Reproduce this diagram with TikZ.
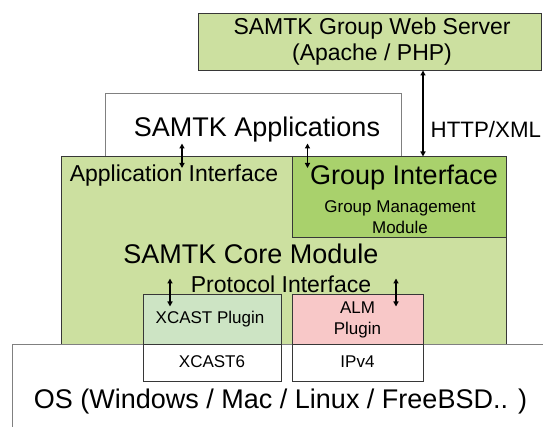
\documentclass[tikz,border=0pt]{standalone}
\usepackage{fontspec}
\setmainfont{Liberation Sans}
\usetikzlibrary{arrows.meta}
\definecolor{coregreen}{RGB}{204,224,160}
\definecolor{groupgreen}{RGB}{169,209,108}
\definecolor{xcastgreen}{RGB}{205,228,196}
\definecolor{almpink}{RGB}{248,200,200}
\definecolor{darkedge}{RGB}{55,55,55}
\definecolor{grayedge}{RGB}{128,128,128}
\tikzset{
  boxshape/.style={rectangle, inner sep=0pt, outer sep=0pt, anchor=north west, line width=0.8pt},
  bigtext/.style={font=\fontsize{27}{32}\selectfont, inner sep=0pt},
  midtext/.style={font=\fontsize{23}{26}\selectfont, inner sep=0pt},
  smalltext/.style={font=\fontsize{17}{21}\selectfont, inner sep=0pt},
  biarrow/.style={{Triangle[length=5pt,width=5pt]}-{Triangle[length=5pt,width=5pt]}, line width=1.4pt, shorten <=0pt, shorten >=0pt}
}
\begin{document}
\begin{tikzpicture}[x=1pt,y=-1pt]
\useasboundingbox (0,0) rectangle (543,427);
% boxes
\node[boxshape, draw=darkedge, fill=coregreen, minimum width=343pt, minimum height=57pt] (web) at (198,13.5) {};
\node[boxshape, draw=grayedge, fill=white, minimum width=296.5pt, minimum height=63pt] (apps) at (105,93.5) {};
\node[boxshape, draw=darkedge, fill=coregreen, minimum width=445pt, minimum height=187.5pt] (core) at (61,156.5) {};
\node[boxshape, draw=darkedge, fill=groupgreen, minimum width=214pt, minimum height=80.5pt] (group) at (292,156.5) {};
\node[boxshape, draw=grayedge, fill=white, minimum width=560pt, minimum height=120pt] (os) at (12,344) {};
\node[boxshape, draw=darkedge, fill=xcastgreen, minimum width=138pt, minimum height=50pt] (xcast) at (143,294) {};
\node[boxshape, draw=darkedge, fill=white, minimum width=138pt, minimum height=37pt] (xcast6) at (143,344) {};
\node[boxshape, draw=darkedge, fill=almpink, minimum width=131pt, minimum height=50pt] (alm) at (292,294) {};
\node[boxshape, draw=darkedge, fill=white, minimum width=131pt, minimum height=37pt] (ipv4) at (292,344) {};
% texts
\node[midtext, align=center] (webtext) at (372,42) {SAMTK Group Web Server\\(Apache / PHP)};
\node[bigtext] (appstext) at (257,130) {SAMTK Applications};
\node[font=\fontsize{22.3}{26}\selectfont, inner sep=0pt, anchor=west] (httptext) at (430.5,130) {HTTP/XML};
\node[midtext] (appif) at (174,176) {Application Interface};
\node[bigtext] (groupif) at (404,177.5) {Group Interface};
\node[smalltext, align=center] (gmm) at (400,217) {Group Management\\Module};
\node[bigtext] (coretext) at (251,254) {SAMTK Core Module};
\node[midtext] (protoif) at (281,284) {Protocol Interface};
\node[smalltext] (xcasttext) at (210,319) {XCAST Plugin};
\node[smalltext, align=center] (almtext) at (357.5,319.5) {ALM\\Plugin};
\node[smalltext] (xcast6text) at (212,362) {XCAST6};
\node[smalltext] (ipv4text) at (357.5,362) {IPv4};
\node[bigtext] (ostext) at (280.5,401.5) {OS (Windows / Mac / Linux / FreeBSD.. )};
% arrow end points
\coordinate (a1top) at (182,143.5);
\coordinate (a1bot) at (182,168);
\coordinate (a2top) at (307.5,143.5);
\coordinate (a2bot) at (307.5,168);
\coordinate (p1top) at (170,278.5);
\coordinate (p1bot) at (170,306.5);
\coordinate (p2top) at (396,278.5);
\coordinate (p2bot) at (396,306.5);
\coordinate (hx) at (423,0);
% arrows
\draw[biarrow] (web.south -| hx) -- (core.north -| hx);
\draw[biarrow] (a1top) -- (a1bot);
\draw[biarrow] (a2top) -- (a2bot);
\draw[biarrow] (p1top) -- (p1bot);
\draw[biarrow] (p2top) -- (p2bot);
\end{tikzpicture}
\end{document}
